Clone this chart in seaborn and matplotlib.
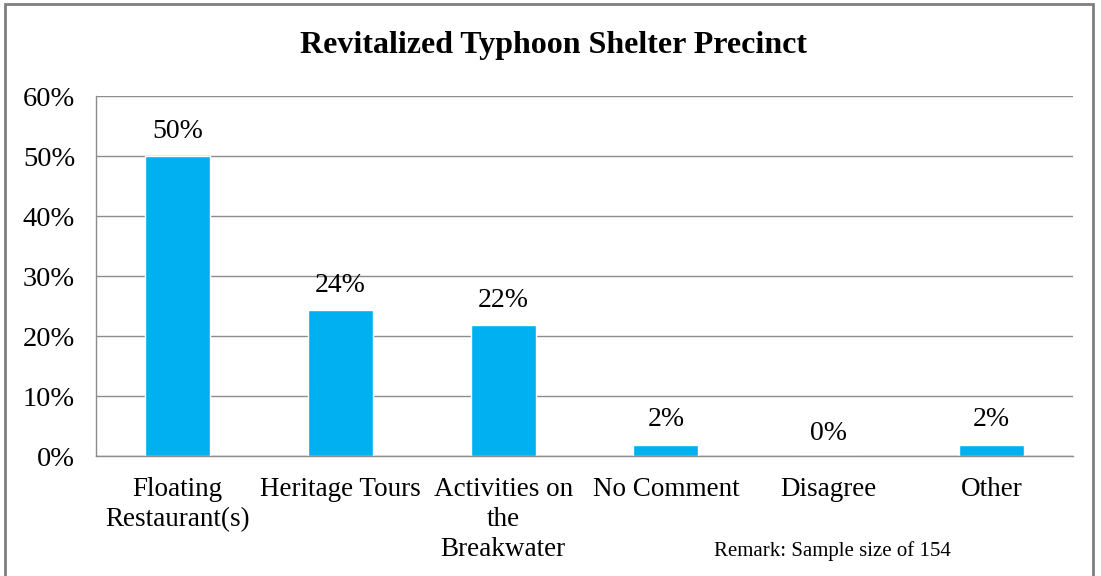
import matplotlib
matplotlib.use("Agg")
import matplotlib.pyplot as plt
import matplotlib.patches as mpatches
from matplotlib.ticker import PercentFormatter
import seaborn as sns
import pandas as pd

categories = ["Floating\nRestaurant(s)", "Heritage Tours", "Activities on\nthe\nBreakwater",
              "No Comment", "Disagree", "Other"]
shares = [50.0, 24.3, 21.8, 1.9, 0.0, 1.9]
value_labels = ["50%", "24%", "22%", "2%", "0%", "2%"]

df = pd.DataFrame({"category": categories, "share": shares})

sns.set_style("white")
plt.rcParams["font.family"] = ["Liberation Serif", "DejaVu Serif"]
plt.rcParams["text.color"] = "black"
plt.rcParams["xtick.labelcolor"] = "black"
plt.rcParams["ytick.labelcolor"] = "black"

fig = plt.figure(figsize=(11.01, 5.76), dpi=100)
ax = fig.add_axes([96 / 1101, 1 - 456 / 576, (1073 - 96) / 1101, 360 / 576])

sns.barplot(data=df, x="category", y="share", color="#00B0F0", width=0.4,
            saturation=1, ax=ax)

ax.set_ylim(0, 60)
ax.set_xlim(-0.5, 5.5)
ax.set_yticks(range(0, 61, 10))
ax.yaxis.set_major_formatter(PercentFormatter(decimals=0))
ax.grid(axis="y", color="#8c8c8c", linewidth=1)
ax.set_axisbelow(True)
ax.set_xlabel("")
ax.set_ylabel("")

for s in ["top", "right"]:
    ax.spines[s].set_visible(False)
for s in ["left", "bottom"]:
    ax.spines[s].set_color("#8c8c8c")
    ax.spines[s].set_linewidth(1)

ax.set_xticks([i - 0.5 for i in range(7)], minor=True)
ax.tick_params(axis="x", which="major", length=0, labelsize=19.5, pad=15)
ax.tick_params(axis="x", which="minor", length=6, color="#8c8c8c", direction="out")
ax.tick_params(axis="y", length=6, color="#8c8c8c", direction="out", labelsize=20.5, pad=9)
ax.set_xticks(range(len(categories)))
ax.set_xticklabels(categories, linespacing=1.27, va="top")

for i, (v, lab) in enumerate(zip(shares, value_labels)):
    off = 9 if v > 0 else 7
    ax.annotate(lab, (i, v), xytext=(0, off), textcoords="offset points",
                ha="center", va="bottom", fontsize=20)

fig.text(554 / 1101, 1 - 46 / 576, "Revitalized Typhoon Shelter Precinct",
         ha="center", va="center", fontsize=23, fontweight="bold")
fig.text(832 / 1101, 1 - 551 / 576, "Remark: Sample size of 154",
         ha="center", va="center", fontsize=15)

fig.patches.append(mpatches.Rectangle((5 / 1101, -0.1), (1093 - 5) / 1101, 1.1 - 4 / 576,
                                      transform=fig.transFigure, fill=False,
                                      edgecolor="#7f7f7f", linewidth=2))

fig.savefig("out.png", dpi=100)
